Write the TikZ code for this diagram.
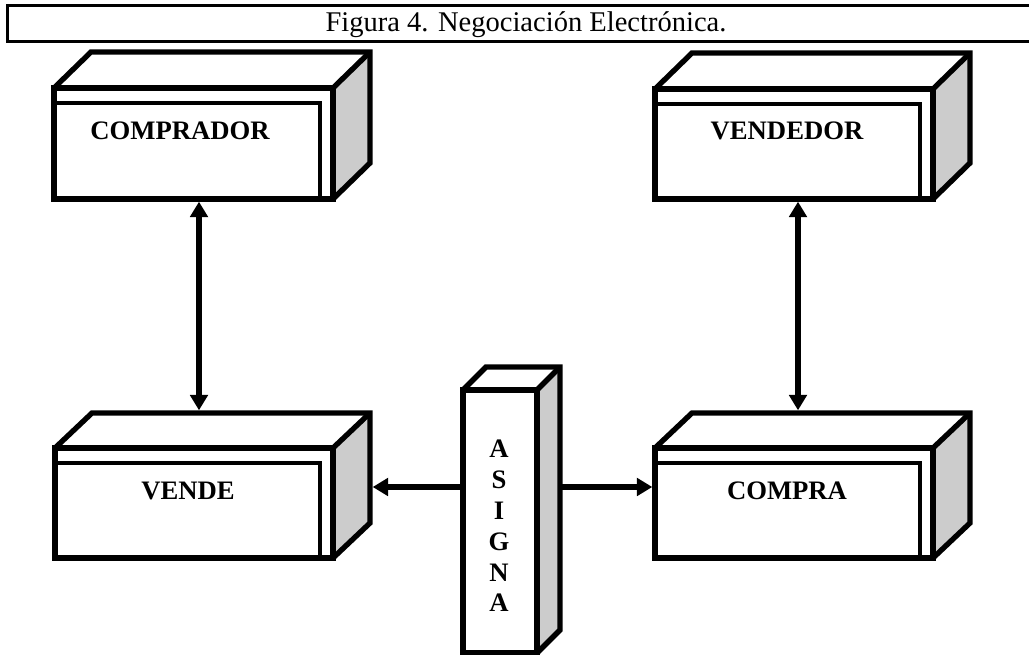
\documentclass[tikz,border=0pt]{standalone}
\usepackage{fontspec}
\setmainfont{Liberation Serif}
\usetikzlibrary{arrows.meta,calc}

\tikzset{
  every node/.style={inner sep=0pt, outer sep=0pt},
  face/.style={draw=none, anchor=north west},
  boxline/.style={line width=4pt, line join=miter},
  innerline/.style={line width=3.4pt},
  sidefill/.style={fill=gray!40},
  tag/.style={font=\fontsize{20}{24}\selectfont\bfseries, anchor=base},
  headline/.style={font=\fontsize{21.4}{25}\selectfont, anchor=base},
  tip/.tip={Triangle[length=11.5pt,width=13pt]},
  link/.style={line width=4.5pt, tip-tip},
  onelink/.style={line width=4.5pt, -tip},
}

% #1 name, #2 x, #3 y (top-left corner of the front face), #4 width, #5 height,
% #6 #7 offset of the back edges
\newcommand{\solidbox}[7]{%
  \node[face, minimum width=#4*0.75pt, minimum height=#5*0.75pt] (#1) at (#2,#3) {};
  \path[sidefill] (#1.north east) -- ++(#6,#7) -- ($(#1.south east)+(#6,#7)$)
    -- (#1.south east) -- cycle;
  \draw[boxline] (#1.north west) rectangle (#1.south east);
  \draw[boxline] (#1.north west) -- ++(#6,#7) -- ($(#1.north east)+(#6,#7)$)
    -- ($(#1.south east)+(#6,#7)$) -- (#1.south east);
  \draw[boxline] ($(#1.north east)+(#6,#7)$) -- (#1.north east);
}
% second frame inside the front face
\newcommand{\innerframe}[1]{%
  \draw[innerline] ($(#1.north west)+(0,15)$) rectangle ($(#1.south east)+(-13,0)$);
}

\begin{document}
\begin{tikzpicture}[x=0.75pt,y=-0.75pt]
\useasboundingbox (0,0) rectangle (1029,655);

% caption bar
\draw[line width=2.25pt] (7,5.3) rectangle (1045,41.7);
\node[headline] (title) at (526,32) {Figura 4. Negociación Electrónica.};

% boxes
\solidbox{comprador}{54}{88}{279}{111}{37}{-36}
\innerframe{comprador}
\solidbox{vendedor}{655}{89}{278}{110}{37}{-36}
\innerframe{vendedor}
\solidbox{vende}{55}{448}{278}{110}{37}{-35}
\innerframe{vende}
\solidbox{compra}{655}{448}{278}{110}{37}{-35}
\innerframe{compra}
\solidbox{asigna}{463}{390}{74}{263}{23}{-23}

% labels
\node[tag] (tcomprador) at (180,140) {COMPRADOR};
\node[tag] (tvendedor) at (787,140) {VENDEDOR};
\node[tag] (tvende) at (188,500) {VENDE};
\node[tag] (tcompra) at (787,500) {COMPRA};
\foreach \ch [count=\i from 0] in {A,S,I,G,N,A}
  \node[tag] (asig\i) at (499,458+30.8*\i) {\ch};

% connectors
\draw[link] ($(comprador.south west)+(145,2.7)$) -- ($(vende.north west)+(144,-37.7)$);
\draw[link] ($(vendedor.south west)+(143,2.7)$) -- ($(compra.north west)+(143,-37.7)$);
\draw[onelink] ($(asigna.north west)+(0,97)$) -- ($(vende.north east)+(39.7,39)$);
\draw[onelink] ($(asigna.north east)+(23,97)$) -- ($(compra.north west)+(-2.7,39)$);
\end{tikzpicture}
\end{document}
